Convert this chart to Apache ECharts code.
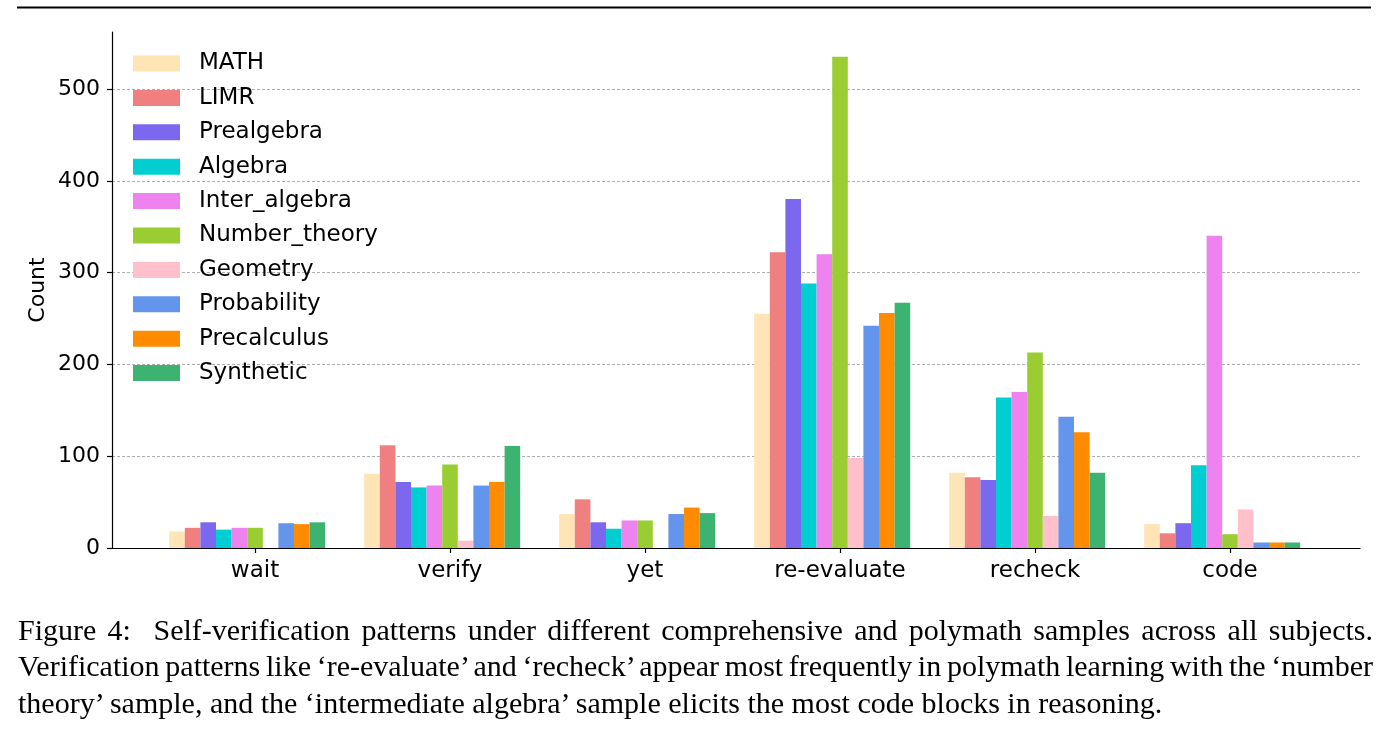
<!DOCTYPE html>
<html>
<head>
<meta charset="utf-8">
<script src="https://cdn.jsdelivr.net/npm/echarts@6/dist/echarts.min.js"></script>
<style>
  html, body { margin: 0; padding: 0; background: #fff; }
  #chart { position: absolute; left: 0; top: 0; width: 1392px; height: 736px; }
  .caption {
    position: absolute; left: 18px; top: 611.5px; width: 1355px;
    font-family: "Liberation Serif", "Times New Roman", serif;
    font-size: 30px; line-height: 36.7px; color: #000;
  }
  .caption div { text-align: justify; text-align-last: justify; white-space: nowrap; }
  .caption div.tight { word-spacing: -3px; }
  .caption div.last { text-align-last: left; }
</style>
</head>
<body>
<div id="chart"></div>
<div class="caption">
  <div>Figure 4:&nbsp; Self-verification patterns under different comprehensive and polymath samples across all subjects.</div>
  <div class="tight">Verification patterns like ‘re-evaluate’ and ‘recheck’ appear most frequently in polymath learning with the ‘number</div>
  <div class="last">theory’ sample, and the ‘intermediate algebra’ sample elicits the most code blocks in reasoning.</div>
</div>
<script>
// patterns on x axis
const patterns = ['wait', 'verify', 'yet', 're-evaluate', 'recheck', 'code'];
const yTicks = [0, 100, 200, 300, 400, 500];

// counts per sample
const MATH          = [18, 81, 37, 255, 82, 26];
const LIMR          = [22, 112, 53, 322, 77, 16];
const Prealgebra    = [28, 72, 28, 380, 74, 27];
const Algebra       = [20, 66, 21, 288, 164, 90];
const Inter_algebra = [22, 68, 30, 320, 170, 340];
const Number_theory = [22, 91, 30, 535, 213, 15];
const Geometry      = [0, 8, 0, 98, 35, 42];
const Probability   = [27, 68, 37, 242, 143, 6];
const Precalculus   = [26, 72, 44, 256, 126, 6];
const Synthetic     = [28, 111, 38, 267, 82, 6];

const samples = [
  ['MATH', MATH, '#FFE4B5'],
  ['LIMR', LIMR, '#F08080'],
  ['Prealgebra', Prealgebra, '#7B68EE'],
  ['Algebra', Algebra, '#00CED1'],
  ['Inter_algebra', Inter_algebra, '#EE82EE'],
  ['Number_theory', Number_theory, '#9ACD32'],
  ['Geometry', Geometry, '#FFC0CB'],
  ['Probability', Probability, '#6495ED'],
  ['Precalculus', Precalculus, '#FF8C00'],
  ['Synthetic', Synthetic, '#3CB371']
];

const FONT = 'DejaVu Sans';
const yMax = 562;

let myChart = echarts.init(document.getElementById('chart'), null, { renderer: 'canvas' });

let series = samples.map(s => ({
  name: s[0],
  type: 'bar',
  xAxisIndex: 1,
  yAxisIndex: 1,
  barGap: 0,
  barCategoryGap: '12%',
  itemStyle: { color: s[2] },
  emphasis: { disabled: true },
  data: s[1].map(v => v === 0 ? null : v)
}));
// empty slot so the ticks sit under the Number_theory bar, as in matplotlib
series.push({
  name: '_pad', type: 'bar', xAxisIndex: 1, yAxisIndex: 1,
  barGap: 0, barCategoryGap: '12%', data: patterns.map(() => null)
});

let options = {
  animation: false,
  backgroundColor: '#fff',
  textStyle: { fontFamily: FONT },
  grid: [
    // frame: bottom spine + tick labels + grid lines (0..500)
    { left: 112, top: 89, width: 1248, height: 459 },
    // bars (0..562)
    { left: 157.5, top: 32, width: 1170, height: 516 }
  ],
  legend: {
    data: samples.map(s => s[0]),
    orient: 'vertical',
    left: 133, top: 52,
    padding: 0,
    itemWidth: 47, itemHeight: 16,
    itemGap: 11.4,
    icon: 'rect',
    selectedMode: false,
    textStyle: { fontFamily: FONT, fontSize: 23, color: '#000', lineHeight: 22, padding: [0, 0, 0, 14] }
  },
  xAxis: [
    {
      type: 'value', gridIndex: 0, min: 0, max: 1,
      axisLine: { show: true, lineStyle: { color: '#000', width: 1.2 } },
      axisTick: { show: false }, axisLabel: { show: false }, splitLine: { show: false }
    },
    {
      type: 'category', gridIndex: 1, data: patterns,
      axisLine: { show: false },
      axisTick: { show: true, alignWithLabel: true, length: 5, lineStyle: { color: '#000', width: 1.2 } },
      axisLabel: { fontFamily: FONT, fontSize: 23, color: '#000', margin: 12 },
      splitLine: { show: false }
    }
  ],
  yAxis: [
    {
      type: 'value', gridIndex: 0, min: 0, max: 500, interval: 100,
      axisLine: { show: false },
      axisTick: { show: true, length: 5, lineStyle: { color: '#000', width: 1.2 } },
      axisLabel: {
        fontFamily: FONT, fontSize: 22, color: '#000', margin: 12,
        formatter: v => yTicks.indexOf(v) >= 0 ? String(v) : ''
      },
      splitLine: { show: true, lineStyle: { color: '#999', width: 0.8, type: [3, 2] } }
    },
    {
      // left spine spans the full data range, moved out to x=112
      type: 'value', gridIndex: 1, min: 0, max: yMax, offset: 45.5,
      name: 'Count', nameLocation: 'middle', nameGap: 63, nameRotate: 90,
      nameTextStyle: { fontFamily: FONT, fontSize: 22, color: '#000' },
      axisLine: { show: true, lineStyle: { color: '#000', width: 1.2 } },
      axisTick: { show: false }, axisLabel: { show: false },
      splitLine: { show: false }
    }
  ],
  graphic: [
    { type: 'rect', shape: { x: 17, y: 6.5, width: 1354, height: 2 }, style: { fill: '#000' }, silent: true }
  ],
  series: series
};
myChart.setOption(options);
</script>
</body>
</html>
